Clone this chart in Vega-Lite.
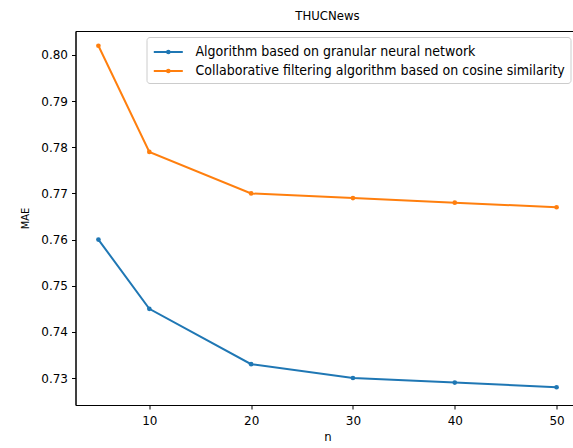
{
  "$schema": "https://vega.github.io/schema/vega-lite/v6.json",
  "autosize": {"type": "none"},
  "width": 504,
  "height": 374,
  "padding": {"left": 75.5, "top": 31, "right": 0, "bottom": 43},
  "background": "white",
  "config": {
    "view": {"stroke": "black", "strokeWidth": 1},
    "font": "DejaVu Sans"
  },
  "title": {
    "text": "THUCNews",
    "font": "DejaVu Sans Condensed",
    "fontSize": 13,
    "fontWeight": "normal",
    "color": "black",
    "anchor": "middle",
    "offset": 8
  },
  "data": {
    "values": [
      {"n": 5, "mae": 0.760, "s": "Algorithm based on granular neural network"},
      {"n": 10, "mae": 0.745, "s": "Algorithm based on granular neural network"},
      {"n": 20, "mae": 0.733, "s": "Algorithm based on granular neural network"},
      {"n": 30, "mae": 0.730, "s": "Algorithm based on granular neural network"},
      {"n": 40, "mae": 0.729, "s": "Algorithm based on granular neural network"},
      {"n": 50, "mae": 0.728, "s": "Algorithm based on granular neural network"},
      {"n": 5, "mae": 0.802, "s": "Collaborative filtering algorithm based on cosine similarity"},
      {"n": 10, "mae": 0.779, "s": "Collaborative filtering algorithm based on cosine similarity"},
      {"n": 20, "mae": 0.770, "s": "Collaborative filtering algorithm based on cosine similarity"},
      {"n": 30, "mae": 0.769, "s": "Collaborative filtering algorithm based on cosine similarity"},
      {"n": 40, "mae": 0.768, "s": "Collaborative filtering algorithm based on cosine similarity"},
      {"n": 50, "mae": 0.767, "s": "Collaborative filtering algorithm based on cosine similarity"}
    ]
  },
  "mark": {"type": "line", "strokeWidth": 2, "point": {"size": 22, "filled": true, "opacity": 1}},
  "encoding": {
    "x": {
      "field": "n", "type": "quantitative",
      "scale": {"domain": [2.75, 52.25], "nice": false, "zero": false},
      "axis": {
        "title": "n", "values": [10, 20, 30, 40, 50], "grid": false,
        "domainColor": "black", "tickColor": "black", "tickSize": 4,
        "labelFontSize": 12, "labelColor": "black", "labelPadding": 6,
        "titleFont": "DejaVu Sans Condensed", "titleFontSize": 13, "titleFontWeight": "normal", "titleColor": "black", "titlePadding": 4
      }
    },
    "y": {
      "field": "mae", "type": "quantitative",
      "scale": {"domain": [0.72415, 0.8052], "nice": false, "zero": false},
      "axis": {
        "title": "MAE", "values": [0.73, 0.74, 0.75, 0.76, 0.77, 0.78, 0.79, 0.80], "format": ".2f", "grid": false,
        "domainColor": "black", "tickColor": "black", "tickSize": 4,
        "labelFontSize": 12, "labelColor": "black", "labelPadding": 4,
        "titleFont": "DejaVu Sans Condensed", "titleFontSize": 11, "titleFontWeight": "normal", "titleColor": "black", "titlePadding": 10
      }
    },
    "color": {
      "field": "s", "type": "nominal",
      "scale": {"range": ["#1f77b4", "#ff7f0e"]},
      "legend": {
        "title": null, "orient": "none", "legendX": 71, "legendY": 6,
        "symbolType": "M-0.89,0H2.46M0.64,0a0.15,0.15 0 1,0 0.3,0a0.15,0.15 0 1,0 -0.3,0",
        "symbolSize": 300, "symbolStrokeWidth": 2,
        "labelFont": "DejaVu Sans Condensed", "labelFontSize": 14, "labelColor": "black",
        "labelLimit": 500, "rowPadding": 2, "labelOffset": 24,
        "strokeColor": "#cccccc", "fillColor": "white", "cornerRadius": 3, "padding": 5
      }
    }
  }
}
